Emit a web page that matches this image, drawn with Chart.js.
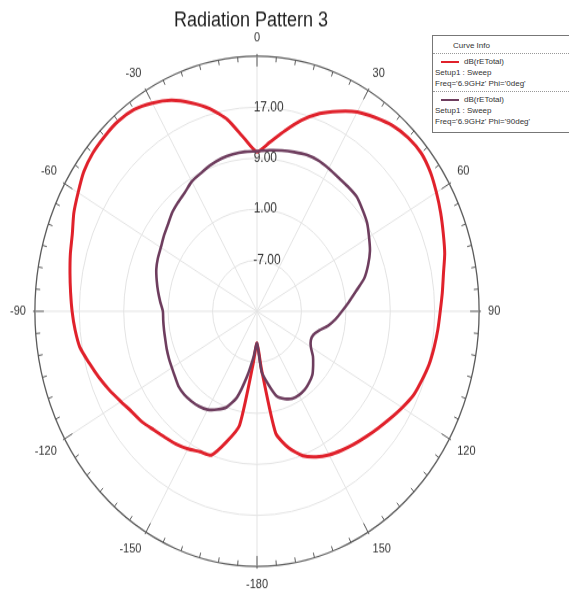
<!DOCTYPE html>
<html>
<head>
<meta charset="utf-8">
<title>Radiation Pattern 3</title>
<script src="https://cdn.jsdelivr.net/npm/chart.js@4"></script>
<style>
  html, body { margin: 0; padding: 0; background: #fff; width: 569px; height: 591px; overflow: hidden; }
  /* the polar plot is drawn on a 569x519 canvas and stretched to the page height */
  #plot { position: absolute; left: 0; top: 0; width: 569px; height: 519px; transform: scaleY(1.1486); transform-origin: 0 0; }
  #curveInfo {
    position: absolute; left: 432px; top: 35px; width: 150px; height: 98px;
    border: 1px solid #777; box-sizing: border-box; background: #fff;
    font-family: 'Liberation Sans Narrow', 'Liberation Sans', Arial, sans-serif;
    font-size: 8px; line-height: 11px; color: #333;
  }
  #curveInfo .head { padding: 4px 0 2px 20px; border-bottom: 1px dotted #999; }
  #curveInfo .entry { padding: 2px 0 2px 2px; border-bottom: 1px dotted #999; }
  #curveInfo .entry:last-child { border-bottom: none; }
  #curveInfo .swatch { display: inline-block; width: 18px; height: 0; border-top: 2px solid; vertical-align: middle; margin: 0 5px 0 6px; }
</style>
</head>
<body>
<div id="plot"><canvas id="c" width="569" height="519"></canvas></div>
<div id="curveInfo"><div class="head">Curve Info</div></div>
<script>
// angular sampling (degrees, clockwise from the top)
const angleStep = 5;
const angleCount = 72;
// labelled directions on the outer ring
const majorAngleStep = 30;

// radial axis (dB)
const rMin = -15;
const rMax = 25;
const radialTicks = [-7, 1, 9, 17];

// dB(rETotal), Setup1 : Sweep, Freq='6.9GHz' Phi='0deg'  (0, 5, 10, ... 355 deg)
const phi0 = [
  10.0, 11.6, 13.7, 16.0, 18.0, 19.6, 21.1, 22.1, 23.0, 23.5, 23.6, 23.1,
  22.3, 21.5, 20.7, 20.0, 19.1, 18.5, 18.0, 17.7, 17.4, 17.1, 16.6, 16.1,
  15.2, 14.3, 13.5, 12.8, 12.2, 11.6, 11.0, 10.2, 9.1, 7.2, 4.4, -6.0,
  -10.0, -6.5, 3.2, 6.2, 9.0, 9.3, 9.9, 10.4, 10.8, 11.3, 12.0, 12.5,
  13.3, 14.3, 15.3, 16.3, 17.4, 17.9, 18.3, 18.7, 19.2, 19.8, 20.4, 21.4,
  22.2, 23.1, 23.6, 23.8, 23.9, 23.6, 22.7, 21.5, 19.8, 17.9, 15.5, 12.3
];

// dB(rETotal), Setup1 : Sweep, Freq='6.9GHz' Phi='90deg'  (0, 5, 10, ... 355 deg)
const phi90 = [
  10.1, 10.35, 10.6, 10.85, 11.1, 11.1, 10.85, 10.6, 10.5, 10.4, 9.8, 9.2,
  8.3, 7.45, 6.3, 5.0, 3.1, 1.6, 0.3, -0.8, -2.0, -3.4, -4.2, -4.3,
  -3.8, -2.7, -1.8, -0.9, -0.4, 0.0, 0.15, 0.1, -0.4, -1.2, -3.4, -5.5,
  -10.0, -7.8, -4.6, -1.0, 1.0, 2.0, 2.8, 3.2, 3.4, 3.5, 3.4, 3.0,
  2.7, 2.5, 2.3, 2.1, 2.0, 1.95, 1.95, 2.5, 3.1, 3.7, 4.3, 4.7,
  5.0, 5.5, 6.0, 6.7, 7.2, 7.7, 8.5, 8.9, 9.4, 9.8, 10.0, 10.1
];

const seriesNames = ['dB(rETotal)', 'dB(rETotal)'];
const seriesSetups = ['Setup1 : Sweep', 'Setup1 : Sweep'];
const seriesVariations = ["Freq='6.9GHz' Phi='0deg'", "Freq='6.9GHz' Phi='90deg'"];
const seriesColors = ['#e0212b', '#6e3d5e'];

// angle categories: 0 ... 175, -180 ... -5
const angles = Array.from({ length: angleCount }, (_, i) => {
  const a = i * angleStep;
  return a < 180 ? a : a - 360;
});

const FONT = "'Liberation Sans', Arial, sans-serif";

// pad a radial tick label with leading spaces so that it starts just left of the axis
const meas = document.createElement('canvas').getContext('2d');
function radialLabel(v) {
  const txt = v.toFixed(2);
  meas.font = '12px ' + FONT;
  const w = meas.measureText(txt).width;
  const sp = meas.measureText(' ').width;
  const n = Math.max(0, Math.round((w - 6) / sp));
  return ' '.repeat(n) + txt;
}

// tick marks around the outer ring
const ringTicks = {
  id: 'ringTicks',
  afterDraw(chart) {
    const s = chart.scales.r;
    const ctx = chart.ctx;
    const R = s.drawingArea;
    ctx.save();
    ctx.strokeStyle = '#5a5a5a';
    ctx.lineWidth = 1;
    s.getLabels().forEach((lab, i) => {
      const major = lab % majorAngleStep === 0;
      const p1 = s.getPointPosition(i, R - (major ? 9 : 4.5));
      const p2 = s.getPointPosition(i, R + (major ? 2 : 0));
      ctx.beginPath();
      ctx.moveTo(p1.x, p1.y);
      ctx.lineTo(p2.x, p2.y);
      ctx.stroke();
    });
    ctx.restore();
  }
};

new Chart(document.getElementById('c'), {
  type: 'radar',
  data: {
    labels: angles,
    datasets: [
      { label: seriesVariations[0], data: phi0, borderColor: seriesColors[0], borderWidth: 3, order: 1 },
      { label: seriesVariations[1], data: phi90, borderColor: seriesColors[1], borderWidth: 2.6, order: 0 }
    ]
  },
  options: {
    responsive: false,
    animation: false,
    devicePixelRatio: 1,
    layout: { padding: { left: 9, right: 66, top: 0, bottom: 0 } },
    elements: {
      point: { radius: 0, hoverRadius: 0 },
      line: { fill: false, tension: 0.2, borderJoinStyle: 'round' }
    },
    plugins: {
      legend: { display: false },
      tooltip: { enabled: false },
      title: {
        display: true,
        text: 'Radiation Pattern 3  ',
        color: '#1e1e1e',
        font: { family: FONT, size: 18, weight: 'normal', lineHeight: 1 },
        padding: { top: 9.5, bottom: -2.5 }
      }
    },
    scales: {
      r: {
        min: rMin,
        max: rMax,
        startAngle: 0,
        afterBuildTicks: (scale) => {
          scale.ticks = radialTicks.concat([rMax]).map(v => ({ value: v }));
        },
        ticks: {
          color: '#333',
          font: { family: FONT, size: 12 },
          showLabelBackdrop: false,
          backdropPadding: 0,
          callback: (v) => (radialTicks.includes(v) ? radialLabel(v) : '')
        },
        grid: {
          circular: true,
          color: (ctx) => (ctx.tick && ctx.tick.value === rMax ? '#5a5a5a' : '#e3e3e3'),
          lineWidth: (ctx) => (ctx.tick && ctx.tick.value === rMax ? 1.3 : 1)
        },
        angleLines: {
          color: (ctx) => (ctx.index % (majorAngleStep / angleStep) === 0 ? '#e3e3e3' : 'rgba(0,0,0,0)'),
          lineWidth: 1
        },
        pointLabels: {
          padding: 3,
          color: '#333',
          font: { family: FONT, size: 11 },
          callback: (lab) => (lab % majorAngleStep === 0 ? String(lab) : '')
        }
      }
    }
  },
  plugins: [ringTicks]
});

// curve info box
const box = document.getElementById('curveInfo');
seriesColors.forEach((col, i) => {
  const e = document.createElement('div');
  e.className = 'entry';
  e.innerHTML = '<div><span class="swatch" style="border-color:' + col + '"></span>' + seriesNames[i] + '</div>' +
    '<div>' + seriesSetups[i] + '</div><div>' + seriesVariations[i] + '</div>';
  box.appendChild(e);
});
</script>
</body>
</html>
